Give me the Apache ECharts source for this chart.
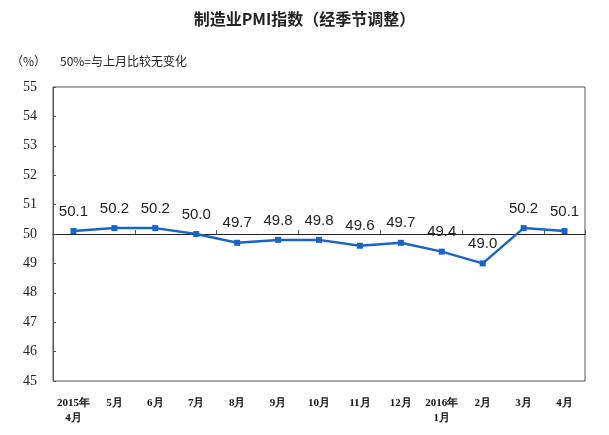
<!DOCTYPE html>
<html><head><meta charset="utf-8">
<script src="https://cdn.jsdelivr.net/npm/echarts@6/dist/echarts.min.js"></script>
<style>html,body{margin:0;padding:0;background:#fff}#c{width:609px;height:435px}</style>
</head><body><div id="c"></div>
<script>
var categories = ['2015年\n4月','5月','6月','7月','8月','9月','10月','11月','12月','2016年\n1月','2月','3月','4月'];
var pmiValues = [50.1,50.2,50.2,50.0,49.7,49.8,49.8,49.6,49.7,49.4,49.0,50.2,50.1];
var yTicks = [45,46,47,48,49,50,51,52,53,54,55];

var chart = echarts.init(document.getElementById('c'));
chart.setOption({
  backgroundColor:'#fff',
  animation:false,
  title:[
    {text:'制造业PMI指数（经季节调整）',left:'center',top:6,textStyle:{fontSize:16,fontWeight:'bold',color:'#222',fontFamily:'Noto Sans CJK SC'}},
    {text:'（%）',left:6,top:50,textStyle:{fontSize:12,fontWeight:'normal',color:'#222',fontFamily:'Noto Sans CJK SC'}},
    {text:'50%=与上月比较无变化',left:55,top:50,textStyle:{fontSize:12,fontWeight:'normal',color:'#222',fontFamily:'Noto Sans CJK SC'}}
  ],
  grid:{left:53,right:24,top:87,bottom:54,show:true,borderColor:'#555',borderWidth:1},
  xAxis:[
    {type:'category',data:categories,boundaryGap:true,position:'bottom',
     axisLine:{show:false},axisTick:{show:false},
     axisLabel:{interval:0,fontSize:11,color:'#111',fontFamily:'Liberation Serif',fontWeight:'bold',margin:15,lineHeight:15}},
    {type:'category',data:categories,boundaryGap:true,position:'bottom',offset:-147,
     axisLine:{show:true,lineStyle:{color:'#222',width:1}},
     axisTick:{show:true,inside:true,length:4,lineStyle:{color:'#555'}},
     axisLabel:{show:false}}
  ],
  yAxis:{type:'value',min:yTicks[0],max:yTicks[yTicks.length-1],interval:1,
    axisLine:{show:true,lineStyle:{color:'#555'}},
    axisTick:{show:true,inside:true,length:3,lineStyle:{color:'#555'}},
    splitLine:{show:false},
    axisLabel:{fontSize:14,color:'#222',fontFamily:'Liberation Serif',margin:16}},
  series:[{type:'line',data:pmiValues,xAxisIndex:0,
    lineStyle:{color:'#1a63c9',width:2.5},
    itemStyle:{color:'#1a63c9'},
    symbol:'rect',symbolSize:6,showAllSymbol:true,
    label:{show:true,position:'top',distance:9,fontSize:15,color:'#222',fontFamily:'Liberation Sans',
      formatter:function(p){return p.value.toFixed(1);}}
  }]
});
</script></body></html>
